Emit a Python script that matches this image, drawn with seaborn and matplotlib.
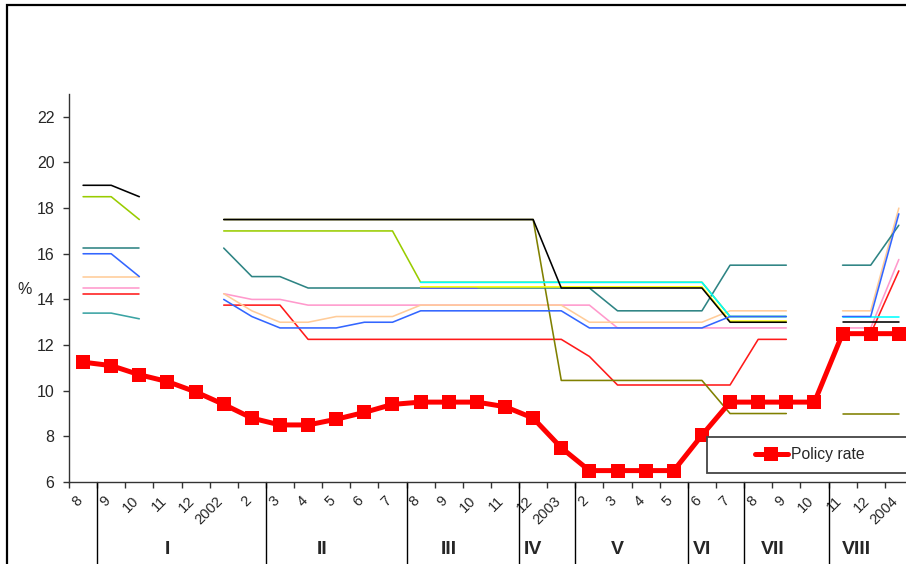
import numpy as np
import pandas as pd
import matplotlib
matplotlib.use("Agg")
import matplotlib.pyplot as plt
import matplotlib.transforms as mtransforms
from matplotlib.patches import Rectangle
import seaborn as sns

nan = np.nan

# ---------------- data ----------------
month_labels = ["8", "9", "10", "11", "12", "2002", "2", "3", "4", "5", "6", "7",
                "8", "9", "10", "11", "12", "2003", "2", "3", "4", "5", "6", "7",
                "8", "9", "10", "11", "12", "2004"]

group_names = ["I", "II", "III", "IV", "V", "VI", "VII", "VIII"]
group_starts = [1, 7, 12, 16, 18, 22, 24, 27]   # first month index of each group

policy_rate = [11.25, 11.1, 10.7, 10.4, 9.95, 9.4, 8.8, 8.5, 8.5, 8.75, 9.05, 9.4,
               9.5, 9.5, 9.5, 9.3, 8.8, 7.5, 6.5, 6.5, 6.5, 6.5, 8.05, 9.5,
               9.5, 9.5, 9.5, 12.5, 12.5, 12.5]

teal_light = [13.4, 13.4, 13.15] + [nan] * 27
red = ([14.25] * 3 + [nan] * 2 + [13.75] * 3 + [12.25] * 10 + [11.5] + [10.25] * 5
       + [12.25] * 2 + [nan] + [12.5, 12.5, 15.25])
pink = ([14.5] * 3 + [nan] * 2 + [14.25] + [14.0] * 2 + [13.75] * 11 + [12.75] * 7
        + [nan] + [12.75, 12.75, 15.75])
orange = ([15.0] * 3 + [nan] * 2 + [14.25, 13.5, 13.0, 13.0] + [13.25] * 3 + [13.75] * 6
          + [13.0] * 5 + [13.5] * 3 + [nan] + [13.5, 13.5, 18.0])
olive = [nan] * 5 + [17.5] * 12 + [10.45] * 6 + [9.0] * 3 + [nan] + [9.0] * 3
yellowgreen = [18.5, 18.5, 17.5] + [nan] * 2 + [17.0] * 7 + [14.75] * 11 + [13.25] * 3 + [nan] * 4
teal = ([16.25] * 3 + [nan] * 2 + [16.25] + [15.0] * 2 + [14.5] * 11 + [13.5] * 4
        + [15.5] * 3 + [nan] + [15.5, 15.5, 17.25])
purple = [nan] * 12 + [14.5] * 3 + [nan] * 15
cyan = [nan] * 12 + [14.75] * 11 + [13.25] * 3 + [nan] + [13.25] * 3
yellow = [nan] * 12 + [14.55] * 11 + [13.05] * 3 + [nan] * 4
black = [19.0, 19.0, 18.5] + [nan] * 2 + [17.5] * 12 + [14.5] * 6 + [13.0] * 3 + [nan] + [13.0] * 3
blue = ([16.0, 16.0, 15.0] + [nan] * 2 + [14.0, 13.25, 12.75, 12.75, 12.75] + [13.0] * 2
        + [13.5] * 6 + [12.75] * 5 + [13.25] * 3 + [nan] + [13.25, 13.25, 17.75])

series = [
    (teal_light, "#3AA3A3"),
    (red, "#FF1A1A"),
    (pink, "#FF99CC"),
    (orange, "#FFCC99"),
    (olive, "#808000"),
    (yellowgreen, "#99CC00"),
    (teal, "#2E8484"),
    (purple, "#5B5BFF"),
    (cyan, "#00FFFF"),
    (yellow, "#FFFF00"),
    (black, "#000000"),
    (blue, "#3366FF"),
]


def to_segments(vals):
    rows, seg, gap = [], 0, True
    for i, v in enumerate(vals):
        if np.isnan(v):
            gap = True
            continue
        if gap:
            seg += 1
            gap = False
        rows.append((i, v, seg))
    return pd.DataFrame(rows, columns=["month", "rate", "segment"])


# ---------------- figure ----------------
sns.set_theme(style="white")
plt.rcParams["font.family"] = ["Liberation Sans", "DejaVu Sans"]

W, H = 906, 564
fig = plt.figure(figsize=(W / 100, H / 100), dpi=100)
fig.patch.set_facecolor("white")
ax = fig.add_axes([69 / W, 82 / H, 30 * 28.13 / W, 388 / H])
ax.set_facecolor("white")

for vals, col in series:
    df = to_segments(vals)
    sns.lineplot(data=df, x="month", y="rate", units="segment", estimator=None,
                 color=col, lw=1.15, ax=ax, legend=False, sort=False)

months = list(range(len(month_labels)))
sns.lineplot(x=months, y=policy_rate, color="#FF0000", lw=3.6, marker="s",
             markersize=10.5, markeredgewidth=0, ax=ax, legend=False, zorder=5)
pol_line = ax.get_lines()[-1]

ax.set_xlim(-0.5, 29.5)
ax.set_ylim(6, 23)
ax.set_xlabel("")
ax.set_ylabel("")
ax.grid(False)

for s in ["top", "right"]:
    ax.spines[s].set_visible(False)
for s in ["left", "bottom"]:
    ax.spines[s].set_color("#333333")
    ax.spines[s].set_linewidth(1.0)

ax.set_yticks(range(6, 23, 2))
ax.set_yticklabels([str(v) for v in range(6, 23, 2)])
ax.tick_params(axis="y", direction="out", length=4.5, width=1, color="#333333",
               pad=6, labelsize=11.5, left=True)

ax.set_xticks(months)
ax.set_xticklabels(month_labels)
ax.set_xticks(np.arange(-0.5, 30, 1), minor=True)
ax.tick_params(axis="x", which="major", length=0, pad=12, labelsize=10.5)
ax.tick_params(axis="x", which="minor", direction="out", length=4, width=1,
               color="#333333", bottom=True)
offset = mtransforms.ScaledTranslation(-3 / 100, 0, fig.dpi_scale_trans)
for lab in ax.get_xticklabels():
    lab.set_rotation(45)
    lab.set_ha("right")
    lab.set_va("center")
    lab.set_rotation_mode("anchor")
    lab.set_transform(lab.get_transform() + offset)

# group separators and labels
blend = mtransforms.blended_transform_factory(ax.transData, ax.transAxes)
for k in group_starts:
    ax.plot([k - 0.5, k - 0.5], [0, -0.3], transform=blend, color="black",
            lw=1, clip_on=False)
group_ends = group_starts[1:] + [len(month_labels)]
for name, a, b in zip(group_names, group_starts, group_ends):
    cx = (a + b - 1) / 2 - 0.5
    ax.text(cx, -0.175, name, transform=blend, ha="center", va="center",
            fontsize=14, fontweight="bold")

fig.text(25 / W, 1 - 290 / H, "%", ha="center", va="center", fontsize=11.5)

# legend box and legend
fig.patches.append(Rectangle((707 / W, 1 - 473 / H), 210 / W, 36 / H,
                             transform=fig.transFigure, facecolor="white",
                             edgecolor="#444444", lw=1.3, zorder=1))
fig.legend(handles=[pol_line], labels=["Policy rate"], loc="center left",
           bbox_to_anchor=(755 / W, 1 - 455 / H), bbox_transform=fig.transFigure,
           frameon=False, borderpad=0, borderaxespad=0, handlelength=2.1,
           handletextpad=0.2, fontsize=11.3)

# outer chart border
fig.patches.append(Rectangle((7 / W, -0.1), 1.2, 1.1 - 5 / H,
                             transform=fig.transFigure, fill=False,
                             edgecolor="black", lw=1.6, zorder=2))

fig.savefig("out.png", dpi=100)
